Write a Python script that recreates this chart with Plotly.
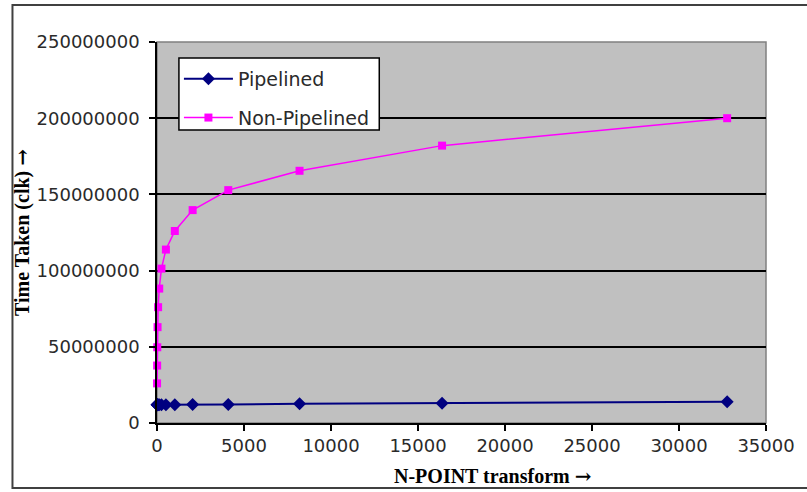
import plotly.graph_objects as go

n_points = [4, 8, 16, 32, 64, 128, 256, 512, 1024, 2048, 4096, 8192, 16384, 32768]
non_pipelined = [26.0e6, 37.7e6, 49.7e6, 62.9e6, 76.0e6, 88.2e6, 101.3e6, 113.8e6,
                 126.0e6, 139.7e6, 152.8e6, 165.5e6, 182.0e6, 200.0e6]
pipelined = [12.0e6, 12.0e6, 12.0e6, 12.0e6, 12.0e6, 12.0e6, 12.0e6, 12.0e6,
             12.0e6, 12.1e6, 12.2e6, 12.6e6, 13.0e6, 14.0e6]

y_ticks = [0, 50000000, 100000000, 150000000, 200000000, 250000000]
x_ticks = [0, 5000, 10000, 15000, 20000, 25000, 30000, 35000]

fig = go.Figure()
fig.add_trace(go.Scatter(
    x=n_points, y=pipelined, name="Pipelined", mode="lines+markers",
    legendgroup="a", cliponaxis=False,
    line=dict(color="#000080", width=2),
    marker=dict(symbol="diamond", size=10, color="#000080"),
))
fig.add_trace(go.Scatter(
    x=n_points, y=non_pipelined, name="Non-Pipelined", mode="lines+markers",
    legendgroup="b", cliponaxis=False,
    line=dict(color="#FF00FF", width=1.5),
    marker=dict(symbol="square", size=8, color="#FF00FF"),
))

L, R, T, B = 157, 768, 42, 423
W, H = 807, 492
pw, ph = R - L, B - T

def px(x):
    return (x - L) / pw

def py(y):
    return (B - y) / ph

tick_font = dict(family="DejaVu Sans, sans-serif", size=18, color="#2a2a2a")
legend_font = dict(family="DejaVu Sans, sans-serif", size=19, color="#2a2a2a")
title_font = dict(family="Liberation Serif, Times New Roman, serif", size=20, color="black")
arrow = '<span style="font-family:DejaVu Serif;font-size:20px">→</span>'

fig.update_layout(
    width=W, height=H,
    margin=dict(l=L, r=W - R, t=T, b=H - B),
    paper_bgcolor="white",
    plot_bgcolor="#C0C0C0",
    font=tick_font,
    showlegend=True,
    legend=dict(
        x=px(179), y=py(60), xanchor="left", yanchor="top",
        bgcolor="rgba(0,0,0,0)", borderwidth=0,
        font=legend_font,
        tracegroupgap=11, itemwidth=49,
    ),
    xaxis=dict(
        range=[0, 35000], tickvals=x_ticks, ticktext=[str(v) for v in x_ticks],
        showgrid=False, zeroline=False, showline=True, linecolor="black", linewidth=1.5,
        ticks="outside", ticklen=6, tickcolor="black", tickwidth=1.5,
        tickfont=tick_font,
    ),
    yaxis=dict(
        range=[0, 250000000], tickvals=y_ticks, ticktext=[str(v) for v in y_ticks],
        showgrid=True, gridcolor="black", gridwidth=1.5,
        zeroline=False, showline=True, linecolor="black", linewidth=1.5,
        ticks="outside", ticklen=6, tickcolor="black", tickwidth=1.5,
        tickfont=tick_font, ticklabelstandoff=6,
        title=dict(text="<b>Time Taken (clk) " + arrow + "</b>", standoff=2, font=title_font),
    ),
    annotations=[
        dict(text="<b>N-POINT transform " + arrow + "</b>", xref="paper", yref="paper",
             x=px(494), y=py(476), xanchor="center", yanchor="middle",
             showarrow=False, font=title_font),
    ],
    shapes=[
        dict(type="rect", xref="paper", yref="paper", x0=0, y0=0, x1=1, y1=1,
             line=dict(color="#808080", width=1.5), layer="below"),
        dict(type="rect", xref="paper", yref="paper",
             x0=px(179), y0=py(130), x1=px(380), y1=py(58),
             fillcolor="white", line=dict(color="black", width=1.5), layer="above"),
        dict(type="rect", xref="paper", yref="paper",
             x0=px(12), y0=py(488), x1=px(815), y1=py(5),
             line=dict(color="#404040", width=2)),
    ],
)

fig.write_html("out.html")
